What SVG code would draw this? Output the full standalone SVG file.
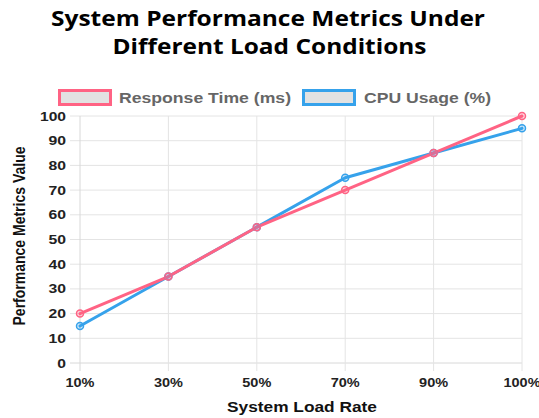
<svg xmlns="http://www.w3.org/2000/svg" width="539" height="418" viewBox="0 0 539 418">
<style>
.title{font-family:"Open Sans","Liberation Sans",sans-serif;font-weight:bold;font-size:21px;fill:#000;text-anchor:middle}
.tick{font-family:"Liberation Sans",Arial,sans-serif;font-weight:bold;font-size:13px;fill:#222}
.axt{font-family:"Liberation Sans",Arial,sans-serif;font-weight:bold;font-size:15px;fill:#111;text-anchor:middle}
.yt{font-size:16.5px}
.leg{font-family:"Liberation Sans",Arial,sans-serif;font-weight:bold;font-size:15px;fill:#666}
.grid line{stroke:#e4e4e4;stroke-width:1}
.red{stroke:#FF6384;fill:none;stroke-width:3;stroke-linejoin:round;stroke-linecap:round}
.blue{stroke:#36A2EB;fill:none;stroke-width:3;stroke-linejoin:round;stroke-linecap:round}
.rp{stroke:#FF6384;fill:rgba(255,99,132,0.25);stroke-width:1.5}
.bp{stroke:#36A2EB;fill:rgba(54,162,235,0.25);stroke-width:1.5}
</style>
<rect width="539" height="418" fill="#fff"/>
<g id="title">
<text class="title" x="268" y="26" textLength="434" lengthAdjust="spacingAndGlyphs">System Performance Metrics Under</text>
<text class="title" x="269.5" y="54" textLength="314" lengthAdjust="spacingAndGlyphs">Different Load Conditions</text>
</g>
<g id="legend">
<rect x="59.5" y="90.5" width="51" height="14" fill="#e2e2e2" stroke="#FF6384" stroke-width="3"/>
<text class="leg" x="119" y="103" textLength="172" lengthAdjust="spacingAndGlyphs">Response Time (ms)</text>
<rect x="303.5" y="90.5" width="51" height="14" fill="#e2e2e2" stroke="#36A2EB" stroke-width="3"/>
<text class="leg" x="364" y="103" textLength="127" lengthAdjust="spacingAndGlyphs">CPU Usage (%)</text>
</g>
<g id="grid" class="grid">
<line x1="70" y1="116" x2="522" y2="116"/>
<line x1="70" y1="140.7" x2="522" y2="140.7"/>
<line x1="70" y1="165.4" x2="522" y2="165.4"/>
<line x1="70" y1="190.1" x2="522" y2="190.1"/>
<line x1="70" y1="214.8" x2="522" y2="214.8"/>
<line x1="70" y1="239.5" x2="522" y2="239.5"/>
<line x1="70" y1="264.2" x2="522" y2="264.2"/>
<line x1="70" y1="288.9" x2="522" y2="288.9"/>
<line x1="70" y1="313.6" x2="522" y2="313.6"/>
<line x1="70" y1="338.3" x2="522" y2="338.3"/>
<line x1="70" y1="363" x2="522" y2="363" style="stroke:#d8d8d8"/>
<line x1="80" y1="116" x2="80" y2="371" style="stroke:#d8d8d8"/>
<line x1="168.4" y1="116" x2="168.4" y2="371"/>
<line x1="256.8" y1="116" x2="256.8" y2="371"/>
<line x1="345.2" y1="116" x2="345.2" y2="371"/>
<line x1="433.6" y1="116" x2="433.6" y2="371"/>
<line x1="522" y1="116" x2="522" y2="371"/>
</g>
<g id="y-ticks" class="tick" text-anchor="end">
<text x="66" y="120.5" textLength="26" lengthAdjust="spacingAndGlyphs">100</text>
<text x="66" y="145.2" textLength="17.5" lengthAdjust="spacingAndGlyphs">90</text>
<text x="66" y="169.9" textLength="17.5" lengthAdjust="spacingAndGlyphs">80</text>
<text x="66" y="194.6" textLength="17.5" lengthAdjust="spacingAndGlyphs">70</text>
<text x="66" y="219.3" textLength="17.5" lengthAdjust="spacingAndGlyphs">60</text>
<text x="66" y="244" textLength="17.5" lengthAdjust="spacingAndGlyphs">50</text>
<text x="66" y="268.7" textLength="17.5" lengthAdjust="spacingAndGlyphs">40</text>
<text x="66" y="293.4" textLength="17.5" lengthAdjust="spacingAndGlyphs">30</text>
<text x="66" y="318.1" textLength="17.5" lengthAdjust="spacingAndGlyphs">20</text>
<text x="66" y="342.8" textLength="17.5" lengthAdjust="spacingAndGlyphs">10</text>
<text x="66" y="367.5" textLength="8.7" lengthAdjust="spacingAndGlyphs">0</text>
</g>
<g id="x-ticks" class="tick" text-anchor="middle">
<text x="80" y="387" textLength="29" lengthAdjust="spacingAndGlyphs">10%</text>
<text x="168.4" y="387" textLength="29" lengthAdjust="spacingAndGlyphs">30%</text>
<text x="256.8" y="387" textLength="29" lengthAdjust="spacingAndGlyphs">50%</text>
<text x="345.2" y="387" textLength="29" lengthAdjust="spacingAndGlyphs">70%</text>
<text x="433.6" y="387" textLength="29" lengthAdjust="spacingAndGlyphs">90%</text>
<text x="522" y="387" textLength="37" lengthAdjust="spacingAndGlyphs">100%</text>
</g>
<g id="axis-titles">
<text class="axt" x="302" y="412" textLength="150" lengthAdjust="spacingAndGlyphs">System Load Rate</text>
<text class="axt yt" transform="translate(25,236) rotate(-90)" x="0" y="0" textLength="179" lengthAdjust="spacingAndGlyphs">Performance Metrics Value</text>
</g>
<g id="connectors">
<polyline class="blue" points="80,325.95 168.4,276.55 256.8,227.15 345.2,177.75 433.6,153.05 522,128.35"/>
<polyline class="red" points="80,313.6 168.4,276.55 256.8,227.15 345.2,190.1 433.6,153.05 522,116"/>
</g>
<g id="cpu-points">
<circle class="bp" cx="80" cy="325.95" r="3.5"/>
<circle class="bp" cx="168.4" cy="276.55" r="3.5"/>
<circle class="bp" cx="256.8" cy="227.15" r="3.5"/>
<circle class="bp" cx="345.2" cy="177.75" r="3.5"/>
<circle class="bp" cx="433.6" cy="153.05" r="3.5"/>
<circle class="bp" cx="522" cy="128.35" r="3.5"/>
</g>
<g id="response-points">
<circle class="rp" cx="80" cy="313.6" r="3.5"/>
<circle class="rp" cx="168.4" cy="276.55" r="3.5"/>
<circle class="rp" cx="256.8" cy="227.15" r="3.5"/>
<circle class="rp" cx="345.2" cy="190.1" r="3.5"/>
<circle class="rp" cx="433.6" cy="153.05" r="3.5"/>
<circle class="rp" cx="522" cy="116" r="3.5"/>
</g>
</svg>
